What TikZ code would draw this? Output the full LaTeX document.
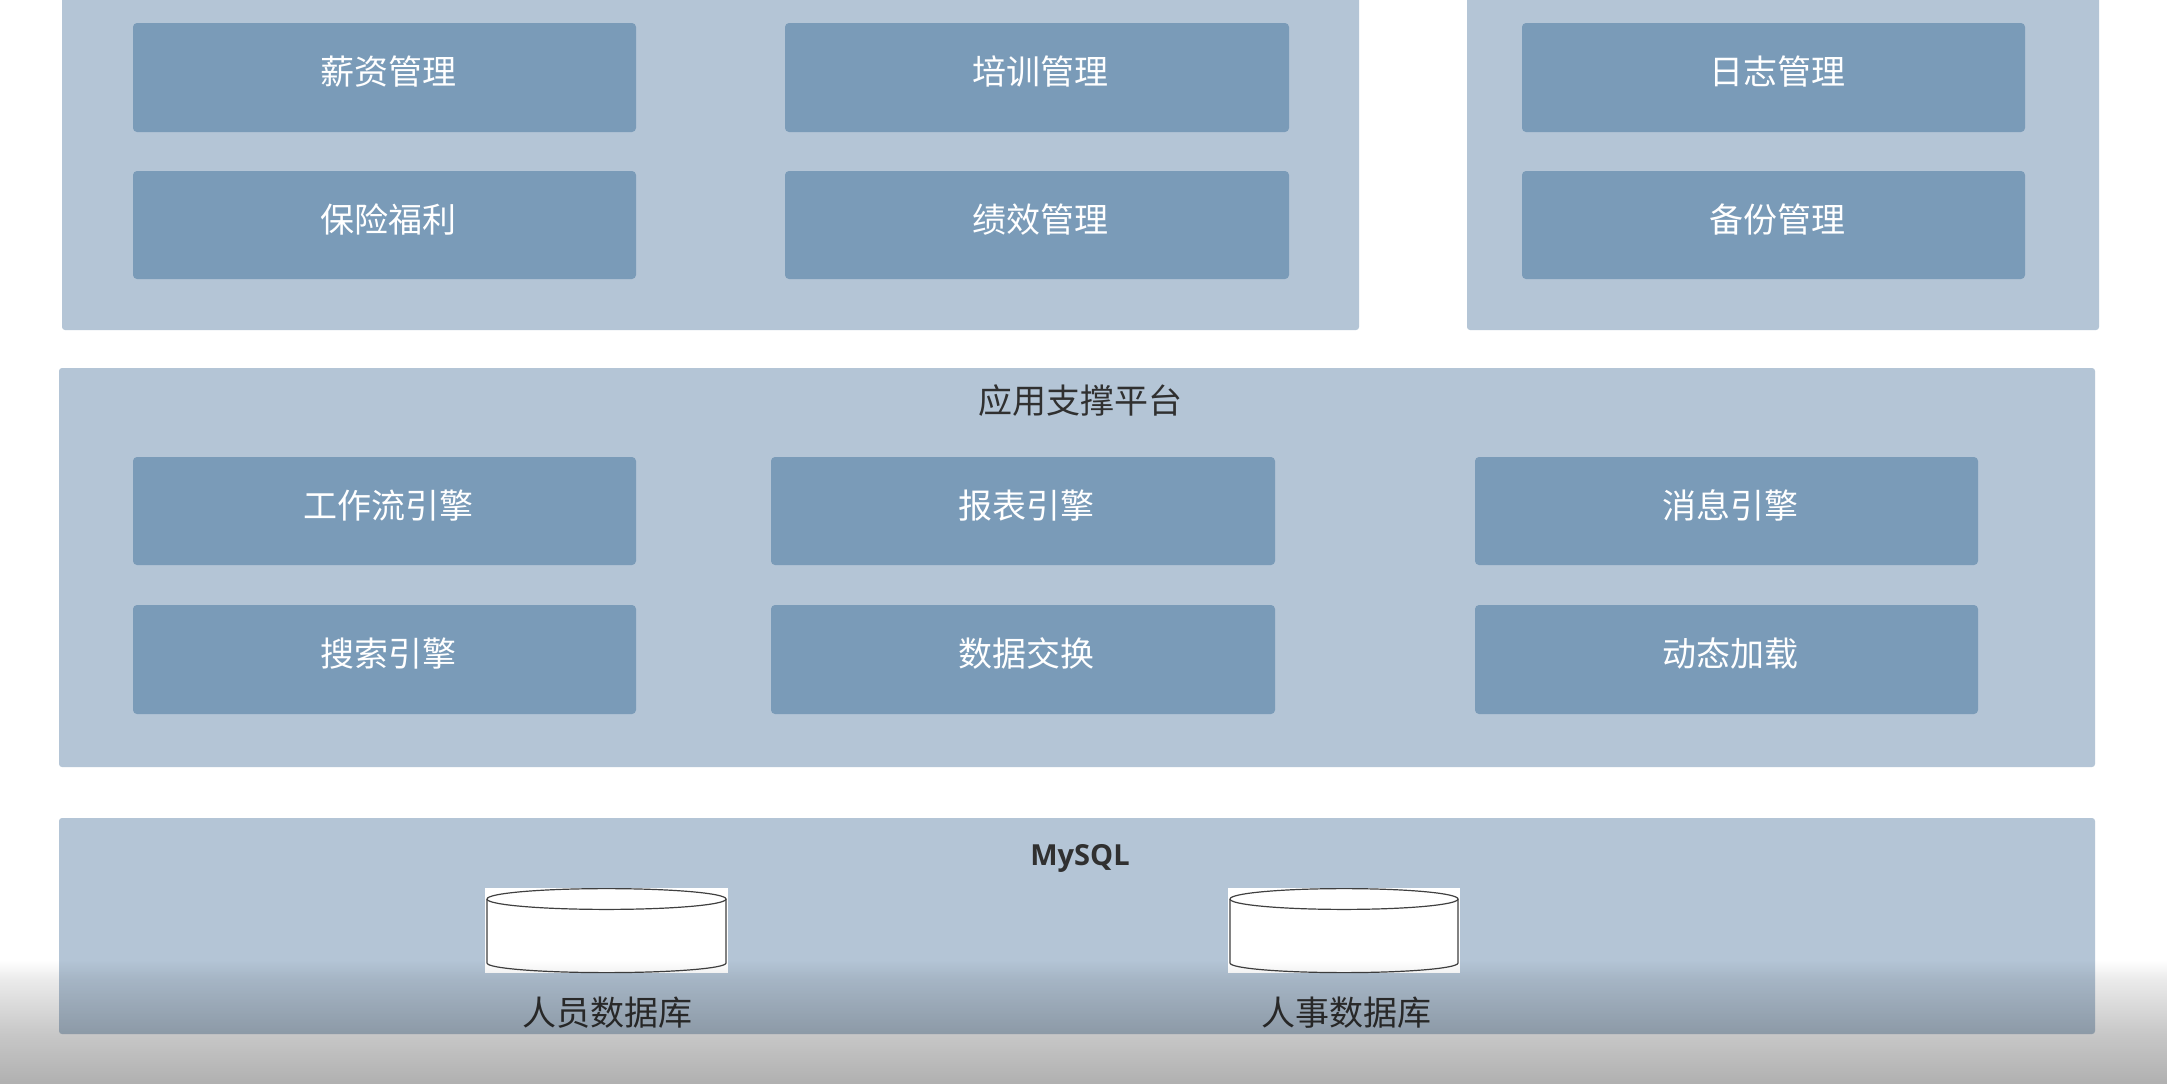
\documentclass[tikz,border=0pt]{standalone}
\usepackage{fontspec}
\setmainfont{Noto Sans CJK SC}
\newfontfamily\latinbold{Open Sans}
\usetikzlibrary{fadings}
\definecolor{panelc}{RGB}{180,197,214}
\definecolor{innerc}{RGB}{122,155,184}
\definecolor{inkc}{RGB}{48,48,48}
\pgfdeclareverticalshading{ovshade}{100bp}{
  color(0bp)=(transparent!69);
  color(25bp)=(transparent!69);
  color(45bp)=(transparent!78);
  color(67bp)=(transparent!92);
  color(75bp)=(transparent!100);
  color(100bp)=(transparent!100)}
\pgfdeclarefading{ovfade}{\pgfuseshading{ovshade}}
\tikzset{
  panelbox/.style={fill=panelc,rounded corners=1.5pt,inner sep=0pt,outer sep=0pt},
  innerbox/.style={fill=innerc,rounded corners=2pt,inner sep=0pt,outer sep=0pt,text=white,font=\fontsize{17}{17}\selectfont},
  dblabel/.style={text=inkc,inner sep=0pt,font=\fontsize{17}{17}\selectfont},
  titlelabel/.style={text=inkc,inner sep=0pt,font=\fontsize{17}{17}\selectfont},
  cylbox/.style={fill=white,inner sep=0pt,outer sep=0pt},
  cylline/.style={draw=black!75,line width=0.6pt}
}
\newcommand{\rectnode}[7]{%
  \node[#1,minimum width={(#5-#3)*0.5pt},minimum height={(#6-#4)*0.5pt}] (#2) at ({(#3+#5)/2},{(#4+#6)/2}) {#7};}
\newcommand{\boxtxt}[1]{\raisebox{-3.5pt}[0pt][0pt]{\hspace*{3.5pt}#1}}
\newcommand{\dbcyl}[5]{%
  \rectnode{cylbox}{#1}{#2}{#3}{#4}{#5}{}
  \draw[cylline] ([xshift=1pt,yshift=-5.5pt]#1.north west) arc[start angle=180,end angle=-180,x radius={(#4-#2)*0.25pt-1pt},y radius=5.2pt];
  \draw[cylline] ([xshift=1pt,yshift=-5.5pt]#1.north west) -- ([xshift=1pt,yshift=5pt]#1.south west)
     arc[start angle=180,end angle=360,x radius={(#4-#2)*0.25pt-1pt},y radius=4.8pt]
     -- ([xshift=-1pt,yshift=-5.5pt]#1.north east);}
\begin{document}
\begin{tikzpicture}[x=0.5pt,y=-0.5pt]
\useasboundingbox (0,0) rectangle (2168,1084);
\clip (0,0) rectangle (2168,1084);
\fill[white] (0,0) rectangle (2168,1084);

% upper panels
\rectnode{panelbox}{pA}{62}{-20}{1359}{330}{}
\rectnode{panelbox}{pB}{1467}{-20}{2099}{330}{}
\rectnode{innerbox}{salary}{133}{23}{636}{132}{\boxtxt{薪资管理}}
\rectnode{innerbox}{train}{785}{23}{1289}{132}{\boxtxt{培训管理}}
\rectnode{innerbox}{insur}{133}{171}{636}{279}{\boxtxt{保险福利}}
\rectnode{innerbox}{perf}{785}{171}{1289}{279}{\boxtxt{绩效管理}}
\rectnode{innerbox}{logm}{1522}{23}{2025}{132}{\boxtxt{日志管理}}
\rectnode{innerbox}{backup}{1522}{171}{2025}{279}{\boxtxt{备份管理}}

% application support platform
\rectnode{panelbox}{pC}{59}{368}{2095}{767}{}
\node[titlelabel] (pCtitle) at (1080,401) {应用支撑平台};
\rectnode{innerbox}{wf}{133}{457}{636}{565}{\boxtxt{工作流引擎}}
\rectnode{innerbox}{report}{771}{457}{1275}{565}{\boxtxt{报表引擎}}
\rectnode{innerbox}{msg}{1475}{457}{1978}{565}{\boxtxt{消息引擎}}
\rectnode{innerbox}{search}{133}{605}{636}{714}{\boxtxt{搜索引擎}}
\rectnode{innerbox}{xchg}{771}{605}{1275}{714}{\boxtxt{数据交换}}
\rectnode{innerbox}{dyn}{1475}{605}{1978}{714}{\boxtxt{动态加载}}

% MySQL
\rectnode{panelbox}{pD}{59}{818}{2095}{1034}{}
\node[text=inkc,inner sep=0pt,font=\latinbold\bfseries\fontsize{14.5}{14.5}\selectfont] (mysql) at (1080,858) {MySQL};
\dbcyl{dbA}{485}{888}{728}{973}
\dbcyl{dbB}{1228}{888}{1460}{973}
\node[dblabel] (dbAl) at (607,1013) {人员数据库};
\node[dblabel] (dbBl) at (1346,1013) {人事数据库};

% bottom darkening
\fill[black,path fading=ovfade] (0,960) rectangle (2168,1084);
\end{tikzpicture}
\end{document}
